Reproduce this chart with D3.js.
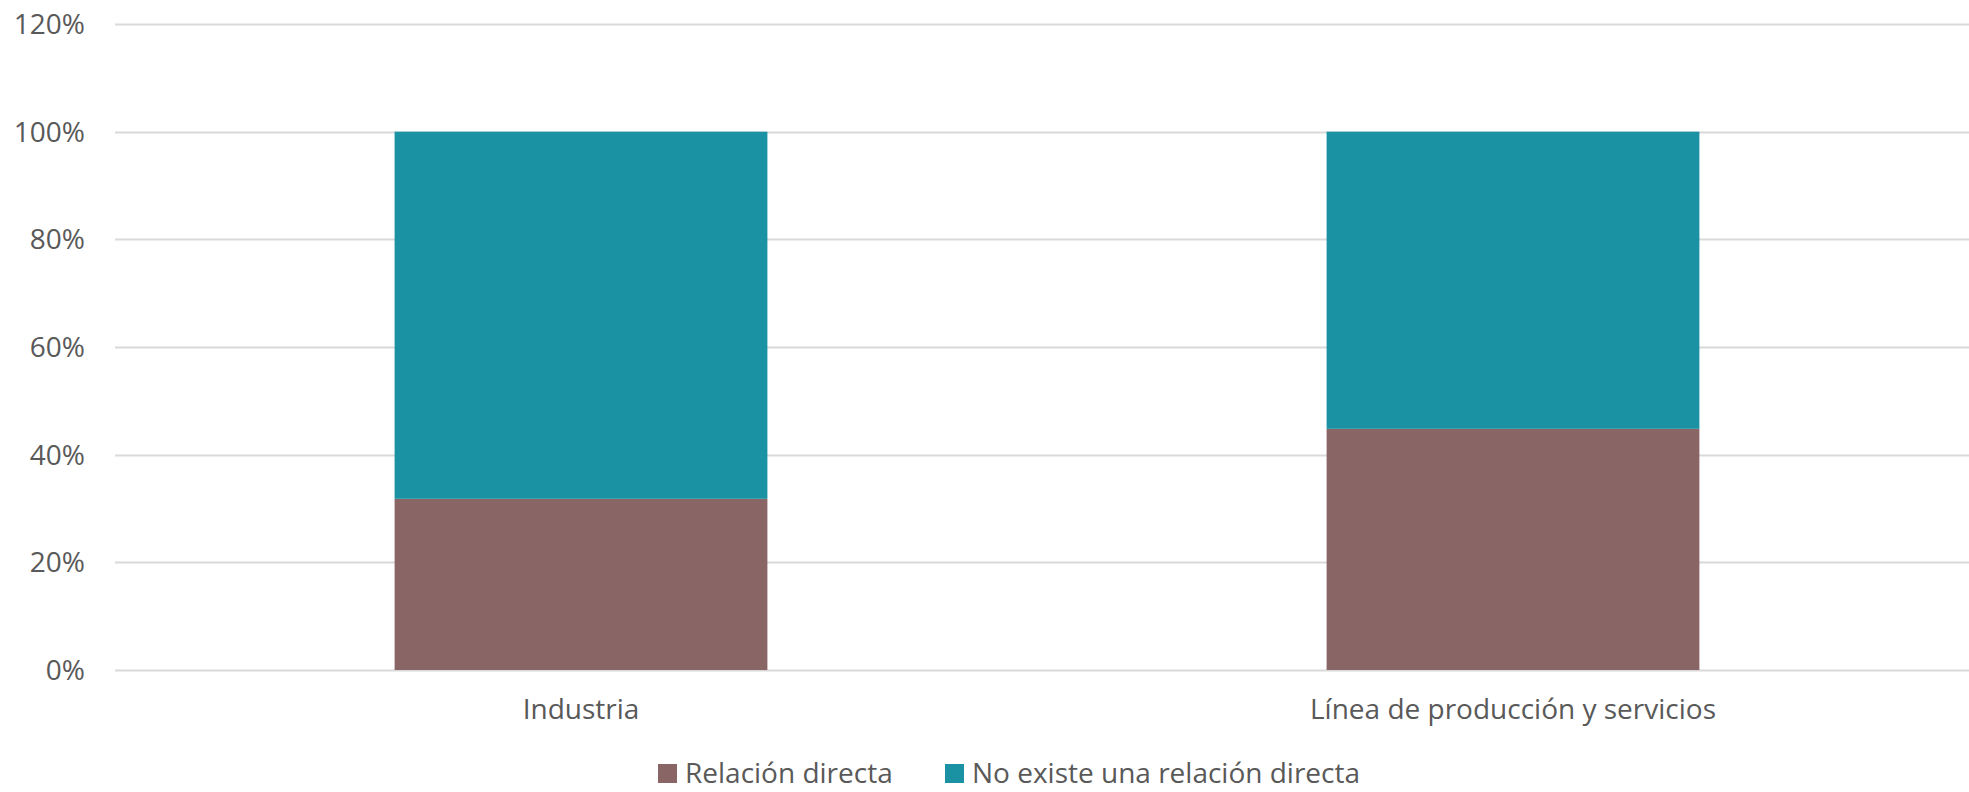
<!DOCTYPE html>
<html lang="es">
<head>
<meta charset="UTF-8">
<script src="https://d3js.org/d3.v7.min.js"></script>
<style>
  body { margin: 0; background: #fff; overflow: hidden; }
  svg { display: block; }
  text { font-family: "Open Sans", sans-serif; fill: #595959; }
</style>
</head>
<body>
<svg width="1969" height="792"></svg>
<script>
// data
const categories = ["Industria", "Línea de producción y servicios"];
const seriesNames = ["Relación directa", "No existe una relación directa"];
const relacionDirecta = [31.8, 44.8];
const noRelacion = [68.2, 55.2];
const yTicks = [0, 20, 40, 60, 80, 100, 120];
const colors = ["#8A6566", "#1B92A4"];

const svg = d3.select("svg");
const fontSize = 28;

// plot area (right edge runs past the window, like the original)
const x = d3.scaleBand()
    .domain(categories)
    .range([115, 1979])
    .paddingInner(0.6)
    .paddingOuter(0.3);

const y = d3.scaleLinear()
    .domain([0, 120])
    .range([670, 24]);

// gridlines
svg.append("g")
    .selectAll("line")
    .data(yTicks)
    .join("line")
    .attr("x1", 115)
    .attr("x2", 1969)
    .attr("y1", d => Math.round(y(d)) + 0.5)
    .attr("y2", d => Math.round(y(d)) + 0.5)
    .attr("stroke", "#D9D9D9")
    .attr("stroke-width", 2);

// y labels
svg.append("g")
    .selectAll("text")
    .data(yTicks)
    .join("text")
    .attr("x", 85)
    .attr("y", d => y(d))
    .attr("dy", "0.36em")
    .attr("text-anchor", "end")
    .style("font-size", fontSize + "px")
    .text(d => d + "%");

// stacked bars
const rows = categories.map((c, i) => ({ cat: c, a: relacionDirecta[i], b: noRelacion[i] }));
const stack = d3.stack().keys(["a", "b"])(rows);

svg.append("g")
    .selectAll("g")
    .data(stack)
    .join("g")
    .attr("fill", (d, i) => colors[i])
    .selectAll("rect")
    .data(d => d)
    .join("rect")
    .attr("x", d => x(d.data.cat))
    .attr("width", x.bandwidth())
    .attr("y", d => y(d[1]))
    .attr("height", d => y(d[0]) - y(d[1]));

// category labels
svg.append("g")
    .selectAll("text")
    .data(categories)
    .join("text")
    .attr("x", d => x(d) + x.bandwidth() / 2)
    .attr("y", 719)
    .attr("text-anchor", "middle")
    .style("font-size", fontSize + "px")
    .text(d => d);

// legend
const legendX = [658, 945];
const legend = svg.append("g")
    .selectAll("g")
    .data(seriesNames)
    .join("g")
    .attr("transform", (d, i) => `translate(${legendX[i]},0)`);

legend.append("rect")
    .attr("x", 0)
    .attr("y", 764)
    .attr("width", 19)
    .attr("height", 19)
    .attr("fill", (d, i) => colors[i]);

legend.append("text")
    .attr("x", 27)
    .attr("y", 783)
    .style("font-size", fontSize + "px")
    .text(d => d);
</script>
</body>
</html>
